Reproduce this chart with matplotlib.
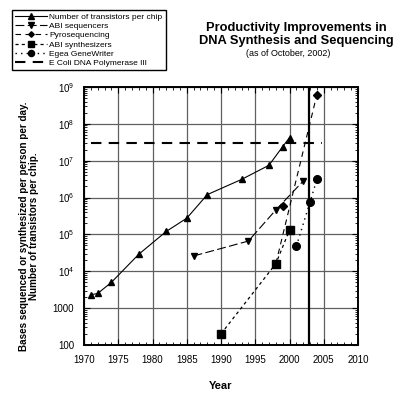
import matplotlib
matplotlib.use("Agg")
import matplotlib.pyplot as plt
from matplotlib.ticker import FixedLocator, LogLocator, NullFormatter

plt.rcParams['font.family'] = ['Liberation Sans', 'DejaVu Sans']
plt.rcParams['mathtext.fontset'] = 'custom'
plt.rcParams['mathtext.rm'] = 'Liberation Sans'
plt.rcParams['mathtext.default'] = 'regular'

# data
trans_years = [1971, 1972, 1974, 1978, 1982, 1985, 1988, 1993, 1997, 1999, 2000]
trans_vals = [2300, 2500, 5000, 29000, 120000, 275000, 1.2e6, 3.1e6, 7.5e6, 2.4e7, 4.2e7]
seq_years = [1986, 1994, 1998, 2002]
seq_vals = [2.6e4, 6.6e4, 4.6e5, 2.8e6]
pyro_years = [1999, 2004]
pyro_vals = [6e5, 6.2e8]
synth_years = [1990, 1998, 2000]
synth_vals = [200, 1.6e4, 1.3e5]
egea_years = [2001, 2003, 2004]
egea_vals = [4.8e4, 7.6e5, 3.1e6]
ecoli_span = [1971, 2004.7]
ecoli_val = 3e7
as_of = 2002.8

xticks = [1970, 1975, 1980, 1985, 1990, 1995, 2000, 2005, 2010]
yticks = [1e2, 1e3, 1e4, 1e5, 1e6, 1e7, 1e8, 1e9]
ylabels = ['100', '1000', '$10^4$', '$10^5$', '$10^6$', '$10^7$', '$10^8$', '$10^9$']

fig = plt.figure(figsize=(4.0, 3.97), dpi=100)
fig.patch.set_facecolor('white')
ax = fig.add_axes([0.21, 0.131, 0.685, 0.650])

ax.plot(trans_years, trans_vals, '-', color='black', lw=0.8, marker='^', ms=5,
        label='Number of transistors per chip')
ax.plot(seq_years, seq_vals, color='black', lw=0.8, dashes=(8, 3), marker='v', ms=5,
        label='ABI sequencers')
# pyrosequencing line is drawn up from the 1998 synthesizer point
ax.plot([synth_years[1], pyro_years[-1]], [synth_vals[1], pyro_vals[-1]], color='black',
        lw=0.8, dashes=(5, 4))
ax.plot(pyro_years, pyro_vals, linestyle='none', color='black', marker='D', ms=4)
ax.plot([], [], color='black', lw=0.8, dashes=(5, 4), marker='D', ms=3.5, label='Pyrosequencing')
ax.plot(synth_years, synth_vals, color='black', lw=0.9, dashes=(2.5, 2.5), marker='s', ms=6,
        label='ABI synthesizers')
ax.plot(egea_years, egea_vals, color='black', lw=1.0, dashes=(1, 3), marker='o', ms=5.5,
        label='Egea GeneWriter')
ax.plot(ecoli_span, [ecoli_val, ecoli_val], color='black', lw=1.5, dashes=(5, 3.5),
        label='E Coli DNA Polymerase III')
ax.axvline(as_of, color='black', lw=1.6)

ax.set_yscale('log')
ax.set_xlim(1970, 2010)
ax.set_ylim(100, 1e9)
ax.set_xticks(xticks)
ax.set_yticks(yticks)
ax.set_yticklabels(ylabels)
ax.xaxis.set_minor_locator(FixedLocator(range(1970, 2011)))
ax.yaxis.set_minor_locator(LogLocator(base=10, subs=range(2, 10)))
ax.yaxis.set_minor_formatter(NullFormatter())
ax.tick_params(which='both', direction='in', top=True, right=True, labelsize=7, pad=7)
ax.tick_params(which='major', length=4, width=0.8)
ax.tick_params(which='minor', length=2.5, width=0.6)
ax.grid(True, which='major', color='#606060', lw=0.9)
for s in ax.spines.values():
    s.set_linewidth(1.4)

ax.set_xlabel('Year', fontsize=8, fontweight='bold', labelpad=12)
fig.text(0.072, 0.43, 'Bases sequenced or synthesized per person per day.\nNumber of transistors per chip.',
         rotation=90, ha='center', va='center', fontsize=7.1, fontweight='bold',
         multialignment='center', linespacing=1.05)

fig.text(0.74, 0.913, 'Productivity Improvements in\nDNA Synthesis and Sequencing',
         ha='center', va='center', fontsize=9.3, fontweight='bold', linespacing=1.05)
fig.text(0.72, 0.866, '(as of October, 2002)', ha='center', va='center', fontsize=6.5)

leg = fig.legend(loc='upper left', bbox_to_anchor=(0.031, 0.975), fontsize=6,
                 handlelength=3.8, handletextpad=0.3, labelspacing=0.18,
                 borderpad=0.35, borderaxespad=0, fancybox=False, edgecolor='black',
                 framealpha=1, markerscale=0.8)
leg.get_frame().set_linewidth(1.0)

fig.savefig('out.png', dpi=100)
